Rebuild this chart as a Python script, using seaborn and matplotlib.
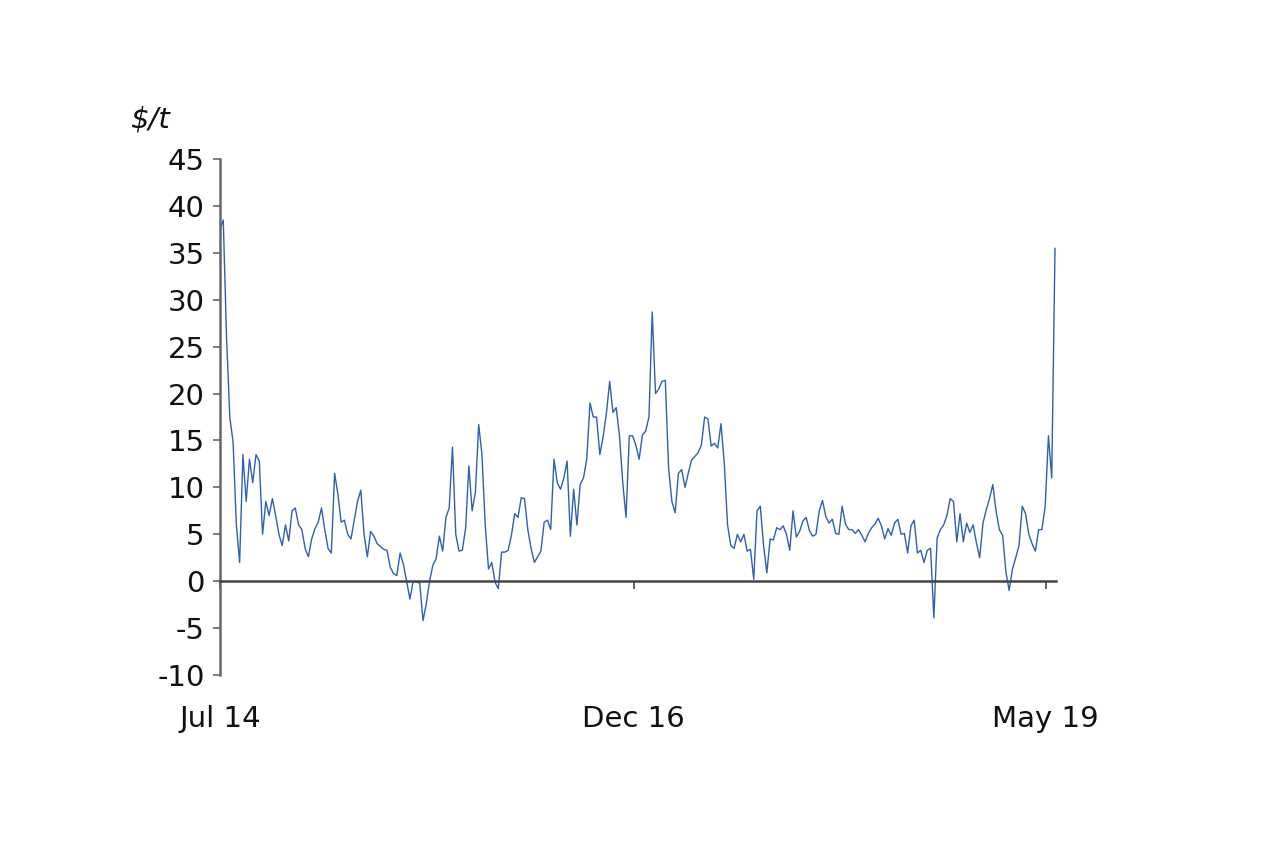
import pandas as pd
import matplotlib
matplotlib.use("Agg")
import matplotlib.pyplot as plt
import matplotlib.dates as mdates
import seaborn as sns

# Serie semanal ($/t), Jul 2014 - May 2019
start_date = "2014-07-01"
spread = [
    37.5, 38.5, 26.0, 17.5, 14.8, 6.0, 2.0, 13.5, 8.5, 13.0,
    10.5, 13.5, 12.8, 5.0, 8.5, 7.0, 8.8, 7.0, 5.0, 3.8,
    6.0, 4.3, 7.5, 7.8, 6.0, 5.5, 3.5, 2.6, 4.5, 5.6,
    6.3, 7.8, 5.5, 3.5, 3.0, 11.5, 9.3, 6.3, 6.5, 5.0,
    4.5, 6.5, 8.5, 9.7, 5.0, 2.6, 5.3, 4.8, 4.0, 3.7,
    3.4, 3.3, 1.5, 0.8, 0.6, 3.0, 1.8, 0.0, -1.9, 0.0,
    -0.1, -0.2, -4.2, -2.4, 0.0, 1.7, 2.4, 4.8, 3.2, 6.8,
    7.8, 14.3, 5.0, 3.2, 3.3, 5.6, 12.3, 7.5, 9.5, 16.7,
    13.5, 6.0, 1.3, 2.0, -0.1, -0.8, 3.1, 3.1, 3.3, 4.9,
    7.2, 6.8, 8.9, 8.8, 5.5, 3.5, 2.0, 2.6, 3.2, 6.3,
    6.5, 5.5, 13.0, 10.5, 9.8, 11.0, 12.8, 4.8, 9.8, 6.0,
    10.3, 11.0, 13.0, 19.0, 17.5, 17.5, 13.5, 15.4, 17.9, 21.3,
    18.0, 18.5, 15.5, 10.5, 6.8, 15.5, 15.5, 14.5, 13.0, 15.6,
    16.0, 17.5, 28.7, 20.0, 20.5, 21.3, 21.4, 12.0, 8.5, 7.3,
    11.5, 11.9, 10.0, 11.5, 12.9, 13.3, 13.7, 14.5, 17.5, 17.3,
    14.4, 14.7, 14.2, 16.8, 12.6, 6.0, 3.8, 3.5, 5.0, 4.2,
    5.0, 3.2, 3.4, 0.2, 7.5, 8.0, 3.8, 0.9, 4.5, 4.4,
    5.7, 5.5, 5.9, 5.0, 3.3, 7.5, 4.7, 5.3, 6.4, 6.8,
    5.4, 4.8, 5.0, 7.5, 8.6, 6.9, 6.2, 6.6, 5.1, 5.0,
    8.0, 6.1, 5.5, 5.5, 5.1, 5.5, 4.9, 4.2, 5.1, 5.7,
    6.1, 6.7, 5.9, 4.5, 5.6, 4.9, 6.2, 6.6, 5.0, 5.1,
    3.0, 5.9, 6.5, 3.0, 3.3, 2.0, 3.3, 3.5, -3.9, 4.6,
    5.5, 6.0, 7.0, 8.8, 8.5, 4.2, 7.2, 4.2, 6.2, 5.2,
    6.0, 4.1, 2.5, 6.2, 7.6, 8.8, 10.3, 7.5, 5.5, 4.9,
    1.0, -1.0, 1.3, 2.5, 3.8, 8.0, 7.2, 5.0, 4.0, 3.2,
    5.5, 5.5, 8.0, 15.5, 11.0, 35.5,
]
tick_dates = ["2014-07-01", "2016-12-01", "2019-05-01"]
y_ticks = list(range(-10, 50, 5))

df = pd.DataFrame({
    "fecha": pd.date_range(start_date, periods=len(spread), freq="7D"),
    "valor": spread,
})

sns.set_style("white")
plt.rcParams["font.family"] = ["DejaVu Sans"]
plt.rcParams["axes.unicode_minus"] = False

fig = plt.figure(figsize=(12.79, 8.51), dpi=100)
ax = fig.add_axes([0.172, 0.2068, 0.6536, 0.6063])

sns.lineplot(data=df, x="fecha", y="valor", ax=ax, color="#2F5FB3", linewidth=1.0)

ax.set_ylim(-10, 45)
ax.set_xlim(df["fecha"].iloc[0], df["fecha"].iloc[-1] + pd.Timedelta(days=2))
ax.set_yticks(y_ticks)
ax.set_xticks(pd.to_datetime(tick_dates))
ax.xaxis.set_major_formatter(mdates.DateFormatter("%b %y"))
ax.set_xlabel("")
ax.set_ylabel("")

for s in ["top", "right"]:
    ax.spines[s].set_visible(False)
ax.spines["left"].set_color("#666666")
ax.spines["left"].set_linewidth(1.8)
ax.spines["bottom"].set_position(("data", 0))
ax.spines["bottom"].set_color("#444444")
ax.spines["bottom"].set_linewidth(1.8)

ax.tick_params(axis="y", left=True, direction="out", length=5, width=1.2,
               color="#666666", labelsize=21, pad=6, labelcolor="#111111")
ax.tick_params(axis="x", bottom=True, direction="out", length=6, width=1.2,
               color="#444444", labelsize=21, pad=83, labelcolor="#111111")

fig.text(130 / 1279, 1 - 128 / 851, r"\$/t", fontsize=21, fontstyle="italic",
         ha="left", va="baseline", color="#111111")

fig.savefig("out.png", dpi=100)
